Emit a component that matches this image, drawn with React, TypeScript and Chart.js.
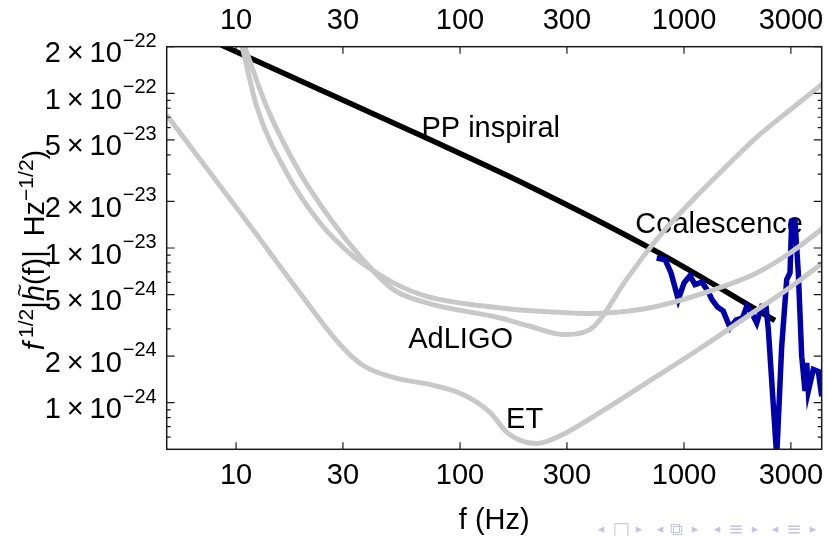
import React, { useEffect, useRef } from "react";
import { Chart, registerables } from "chart.js";

Chart.register(...registerables);

const FONT = '"Liberation Sans", Arial, Helvetica, sans-serif';

// ---- axis ranges ----
const xMin = 4.9;
const xMax = 4118;
const yMin = 5.06e-25;
const yMax = 2e-22;

// ---- ticks ----
const xTickValues = [10, 30, 100, 300, 1000, 3000];
const yTickMantissas = [2, 1, 5, 2, 1, 5, 2, 1];
const yTickExponents = [-22, -22, -23, -23, -23, -24, -24, -24];
const yMinorMantissas = [3, 4, 6, 7, 8, 9];
const yMinorExponents = [-25, -24, -23];

// ---- ET sensitivity ----
const etFreq = [4.9, 11.55, 19.3, 29.1, 36.9, 52.3, 73.5, 103, 136, 162, 191, 221, 288, 422, 705, 1178, 1972, 2972, 4174];
const etAsd = [7.24e-23, 1.39e-23, 5.11e-24, 2.38e-24, 1.74e-24, 1.435e-24, 1.31e-24, 1.13e-24, 8.66e-25, 6.43e-25, 5.63e-25, 5.46e-25, 6.24e-25, 8.66e-25, 1.39e-24, 2.24e-24, 3.71e-24, 5.55e-24, 8.04e-24];

// ---- AdLIGO broadband ----
const ligoBroadFreq = [10.6, 12.37, 16.84, 23.7, 33.3, 38.3, 50.4, 71.0, 151, 228, 380, 636, 927, 1497, 2112, 2973, 4187];
const ligoBroadAsd = [2.05e-22, 8.19e-23, 3.05e-23, 1.45e-23, 8.83e-24, 7.61e-24, 5.95e-24, 4.87e-24, 4.10e-24, 3.90e-24, 3.77e-24, 4.0e-24, 4.52e-24, 5.65e-24, 6.90e-24, 9.28e-24, 1.346e-23];

// ---- AdLIGO tuned (dip near 300 Hz) ----
const ligoTunedFreq = [10.86, 13.7, 19.3, 27.2, 35.8, 50.4, 71.0, 151, 205, 289, 380, 422, 545, 766, 1075, 1524, 2118, 2973, 4187];
const ligoTunedAsd = [2.05e-22, 8.19e-23, 3.05e-23, 1.45e-23, 8.83e-24, 5.38e-24, 4.42e-24, 3.53e-24, 3.12e-24, 2.76e-24, 2.97e-24, 3.45e-24, 6.06e-24, 1.165e-23, 1.99e-23, 3.30e-23, 5.23e-23, 7.80e-23, 1.16e-22];

// ---- PP inspiral ----
const ppFreq = [8.6, 68.5, 205, 727, 2547];
const ppAsd = [2.05e-22, 5.25e-23, 2.50e-23, 9.75e-24, 3.40e-24];

// ---- Coalescence ----
const coalFreq = [755, 823, 875, 943, 1000, 1064, 1119, 1202, 1279, 1333, 1411, 1497, 1605, 1707, 1825, 1905, 2005, 2112, 2223, 2323, 2379, 2593, 2730, 2874, 2973, 3026, 3131, 3238, 3353, 3469, 3530, 3589, 3777, 3978, 4119, 4174];
const coalAsd = [8.62e-24, 8.40e-24, 6.90e-24, 4.64e-24, 5.95e-24, 6.63e-24, 5.80e-24, 6.02e-24, 5.26e-24, 4.64e-24, 4.15e-24, 3.91e-24, 3.05e-24, 3.42e-24, 3.53e-24, 4.20e-24, 3.82e-24, 3.28e-24, 4.20e-24, 4.20e-24, 2.97e-24, 4.5e-25, 2.32e-24, 6.25e-24, 6.90e-24, 1.485e-23, 1.485e-23, 6.90e-24, 2.0e-24, 1.19e-24, 1.81e-24, 1.19e-24, 1.64e-24, 1.59e-24, 1.10e-24, 4.5e-25];

// ---- annotations ----
const labelTexts = ["PP inspiral", "Coalescence", "AdLIGO", "ET"];
const labelFreqs = [67.2, 606, 58.7, 160.5];
const labelAsds = [5.2e-23, 1.25e-23, 2.26e-24, 6.9e-25];

const GREY = "#c8c8c8";

const pts = (fs: number[], vs: number[]) => fs.map((f, i) => ({ x: f, y: vs[i] }));

const majorYValues = yTickMantissas.map((m, i) => m * Math.pow(10, yTickExponents[i]));
const minorYValues: number[] = [];
yMinorExponents.forEach((e) =>
  yMinorMantissas.forEach((m) => {
    const v = m * Math.pow(10, e);
    if (v >= yMin && v <= yMax) minorYValues.push(v);
  })
);

const decorPlugin = {
  id: "decor",
  beforeDatasetsDraw(chart: any) {
    const { ctx, scales } = chart;
    ctx.save();
    ctx.fillStyle = "#000";
    ctx.font = `29px ${FONT}`;
    ctx.textAlign = "left";
    ctx.textBaseline = "alphabetic";
    labelTexts.forEach((t, i) => {
      ctx.fillText(t, scales.x.getPixelForValue(labelFreqs[i]), scales.y.getPixelForValue(labelAsds[i]));
    });
    ctx.restore();
  },
  afterDraw(chart: any) {
    const { ctx, chartArea: a, scales } = chart;
    const xs = scales.x;
    const ys = scales.y;
    ctx.save();
    // frame
    ctx.strokeStyle = "#1a1a1a";
    ctx.lineWidth = 1.5;
    ctx.strokeRect(a.left, a.top, a.right - a.left, a.bottom - a.top);
    // tick marks
    ctx.lineWidth = 1.2;
    ctx.beginPath();
    xTickValues.forEach((v) => {
      const px = xs.getPixelForValue(v);
      ctx.moveTo(px, a.bottom);
      ctx.lineTo(px, a.bottom - 7);
      ctx.moveTo(px, a.top);
      ctx.lineTo(px, a.top + 7);
    });
    majorYValues.forEach((v) => {
      const py = ys.getPixelForValue(v);
      ctx.moveTo(a.left, py);
      ctx.lineTo(a.left + 8, py);
      ctx.moveTo(a.right, py);
      ctx.lineTo(a.right - 8, py);
    });
    minorYValues.forEach((v) => {
      const py = ys.getPixelForValue(v);
      ctx.moveTo(a.left, py);
      ctx.lineTo(a.left + 4, py);
      ctx.moveTo(a.right, py);
      ctx.lineTo(a.right - 4, py);
    });
    ctx.stroke();

    // y tick labels  m × 10^e
    ctx.fillStyle = "#000";
    ctx.textAlign = "left";
    ctx.textBaseline = "alphabetic";
    const mainFont = `29px ${FONT}`;
    const supFont = `20px ${FONT}`;
    const right = a.left - 10;
    yTickMantissas.forEach((m, i) => {
      const py = ys.getPixelForValue(majorYValues[i]);
      const main = `${m}\u2009\u00d7\u200910`;
      const sup = `\u2212${Math.abs(yTickExponents[i])}`;
      ctx.font = supFont;
      const ws = ctx.measureText(sup).width;
      ctx.font = mainFont;
      const wm = ctx.measureText(main).width;
      ctx.fillText(main, right - ws - wm - 1, py + 15.5);
      ctx.font = supFont;
      ctx.fillText(sup, right - ws, py);
    });

    // y axis title (rotated)
    const italic = `italic 29px ${FONT}`;
    const titleSup = `21px ${FONT}`;
    const pieces = [
      { t: "f", f: italic, dy: 0 },
      { t: "\u20091/2", f: titleSup, dy: -11 },
      { t: "|", f: mainFont, dy: 0 },
      { t: "h", f: italic, dy: 0, tilde: true },
      { t: "(f)|\u2009 Hz", f: mainFont, dy: 0 },
      { t: "\u22121/2", f: titleSup, dy: -11 },
      { t: ")", f: mainFont, dy: 0 },
    ];
    let total = 0;
    const widths = pieces.map((p) => {
      ctx.font = p.f;
      const w = ctx.measureText(p.t).width;
      total += w;
      return w;
    });
    ctx.save();
    ctx.translate(44, 250);
    ctx.rotate(-Math.PI / 2);
    let cx = -total / 2;
    pieces.forEach((p, i) => {
      ctx.font = p.f;
      ctx.fillText(p.t, cx, p.dy);
      if ((p as any).tilde) {
        ctx.font = `22px ${FONT}`;
        const tw = ctx.measureText("~").width;
        ctx.fillText("~", cx + widths[i] / 2 - tw / 2 + 3, -17);
      }
      cx += widths[i];
    });
    ctx.restore();

    // beamer navigation symbols
    ctx.fillStyle = "#c3c3e3";
    ctx.textAlign = "center";
    ctx.textBaseline = "middle";
    const navGlyphs = ["\u25c2", "\u25a1", "\u25b8", "\u25c2", "\u29c9", "\u25b8", "\u25c2", "\u2261", "\u25b8", "\u25c2", "\u2261", "\u25b8"];
    const navX = [601, 621, 639, 660, 676, 695, 717, 736, 755, 775, 794, 813];
    navGlyphs.forEach((g, i) => {
      ctx.font = i % 3 === 1 ? `18px "DejaVu Sans"` : `13px "DejaVu Sans"`;
      ctx.fillText(g, navX[i], 530);
    });
    ctx.restore();
  },
};

export default function App() {
  const ref = useRef<HTMLCanvasElement>(null);
  useEffect(() => {
    document.body.style.margin = "0";
    const canvas = ref.current as HTMLCanvasElement;
    const lineBase = { pointRadius: 0, fill: false, clip: 0 as any };
    const xCommon = (pos: "bottom" | "top", padding: number, height: number) => ({
      type: "logarithmic" as const,
      position: pos,
      min: xMin,
      max: xMax,
      grid: { display: false, drawTicks: false },
      border: { display: false },
      ticks: {
        autoSkip: false,
        maxRotation: 0,
        minRotation: 0,
        color: "#000",
        padding,
        font: { size: 29, family: FONT },
        callback: (v: any) => String(v),
      },
      afterBuildTicks: (s: any) => {
        s.ticks = xTickValues.map((v) => ({ value: v }));
      },
      afterFit: (s: any) => {
        s.height = height;
        s.paddingLeft = 0;
        s.paddingRight = 0;
      },
    });
    const chart = new Chart(canvas, {
      type: "line",
      data: {
        datasets: [
          { ...lineBase, label: "ET", data: pts(etFreq, etAsd), borderColor: GREY, borderWidth: 5, cubicInterpolationMode: "monotone" },
          { ...lineBase, label: "AdLIGO broadband", data: pts(ligoBroadFreq, ligoBroadAsd), borderColor: GREY, borderWidth: 5, cubicInterpolationMode: "monotone" },
          { ...lineBase, label: "AdLIGO tuned", data: pts(ligoTunedFreq, ligoTunedAsd), borderColor: GREY, borderWidth: 5, cubicInterpolationMode: "monotone" },
          { ...lineBase, label: "Coalescence", data: pts(coalFreq, coalAsd), borderColor: "#0000aa", borderWidth: 5.5, tension: 0 },
          { ...lineBase, label: "PP inspiral", data: pts(ppFreq, ppAsd), borderColor: "#000", borderWidth: 5.5, cubicInterpolationMode: "monotone" },
        ] as any,
      },
      options: {
        responsive: false,
        animation: false,
        devicePixelRatio: 1,
        layout: { padding: { left: 0, right: 6.3, top: 0, bottom: 0 } },
        plugins: { legend: { display: false }, tooltip: { enabled: false } },
        scales: {
          x: {
            ...xCommon("bottom", 9, 86.7),
            title: {
              display: true,
              text: "f (Hz)",
              color: "#000",
              font: { size: 29, family: FONT },
              padding: { top: 0, bottom: -2 },
            },
          } as any,
          xTop: xCommon("top", 8, 46.7) as any,
          y: {
            type: "logarithmic",
            position: "left",
            min: yMin,
            max: yMax,
            grid: { display: false, drawTicks: false },
            border: { display: false },
            ticks: { display: false },
            afterFit: (s: any) => {
              s.width = 166.7;
              s.paddingTop = 0;
              s.paddingBottom = 0;
            },
          },
        },
      },
      plugins: [decorPlugin],
    });
    return () => chart.destroy();
  }, []);
  return (
    <div style={{ position: "absolute", left: 0, top: 0, width: 828, height: 536, background: "#fff" }}>
      <canvas ref={ref} width={828} height={536} style={{ display: "block", width: 828, height: 536 }} />
    </div>
  );
}
